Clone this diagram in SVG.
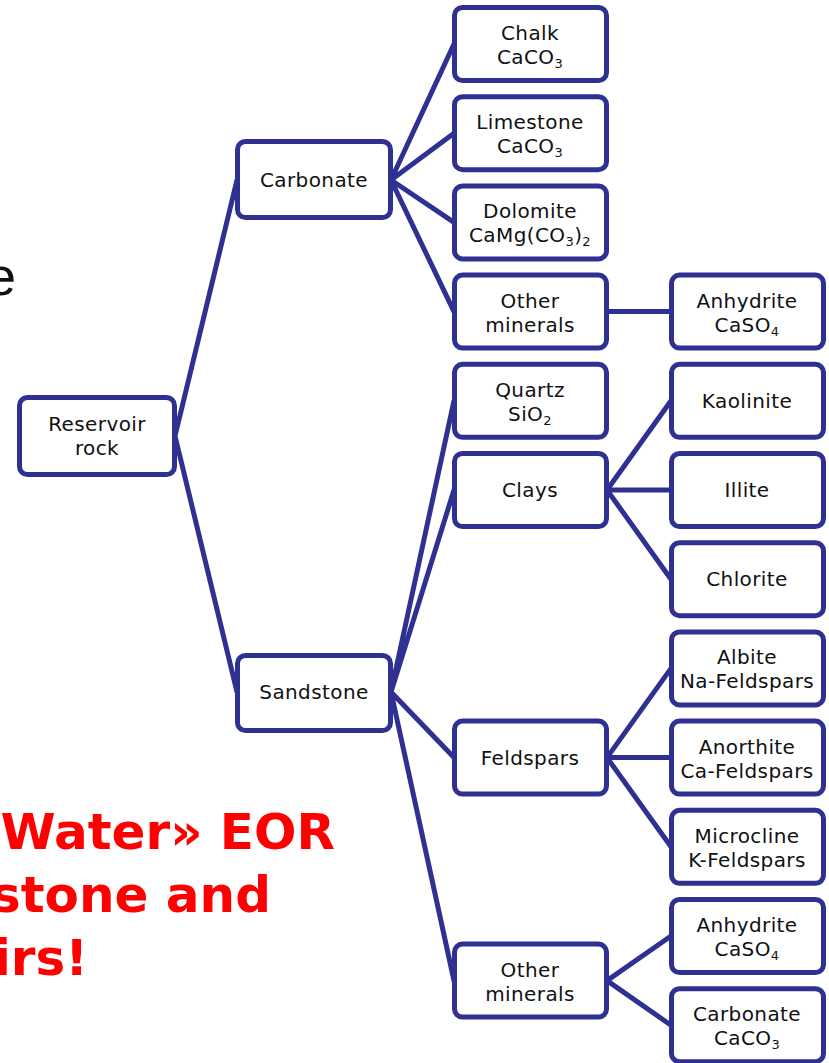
<svg xmlns="http://www.w3.org/2000/svg" width="829" height="1063" viewBox="0 0 829 1063">
<style>
.box{fill:#fff;stroke:#2E3192;stroke-width:5}
.ln{stroke:#2E3192;stroke-width:5;fill:none;stroke-linecap:round}
.t{font-family:"DejaVu Sans",Verdana,sans-serif;font-size:20px;letter-spacing:0.4px;fill:#111;text-anchor:middle}
.s{font-size:13px}
.red{font-family:"DejaVu Sans",Verdana,sans-serif;font-weight:bold;font-size:50px;fill:#FF0000;text-anchor:end}
</style>
<rect width="829" height="1063" fill="#fff"/>
<text x="16" y="295" font-family="Liberation Sans,Arial,sans-serif" font-size="54" fill="#111" text-anchor="end">e</text>
<g id="caption">
<text class="red" x="335" y="849">Water» EOR</text>
<text class="red" x="271" y="912">stone and</text>
<text class="red" x="88" y="975">irs!</text>
</g>
<g id="connectors">
<path class="ln" d="M175 436 L237 180 M175 436 L237 692"/>
<path class="ln" d="M391 180 L454 44 M391 180 L454 133.2 M391 180 L454 222.4 M391 180 L454 311.6"/>
<path class="ln" d="M607 311.6 L671 311.6"/>
<path class="ln" d="M391 692 L454 400.8 M391 692 L454 490 M391 692 L454 757.6 M391 692 L454 980.6"/>
<path class="ln" d="M607 490 L671 400.8 M607 490 L671 490 M607 490 L671 579.2"/>
<path class="ln" d="M607 757.6 L671 668.4 M607 757.6 L671 757.6 M607 757.6 L671 846.8"/>
<path class="ln" d="M607 980.6 L671 936 M607 980.6 L671 1025.2"/>
</g>
<g id="reservoir"><rect class="box" x="19.5" y="397.5" width="155" height="77" rx="8"/><text class="t" x="97" y="431">Reservoir</text><text class="t" x="97" y="455">rock</text></g>
<g id="carbonate"><rect class="box" x="237.5" y="141.5" width="153" height="76" rx="8"/><text class="t" x="314" y="187">Carbonate</text></g>
<g id="sandstone"><rect class="box" x="237.5" y="655.5" width="153" height="75" rx="8"/><text class="t" x="314" y="699">Sandstone</text></g>
<g id="chalk"><rect class="box" x="454.5" y="7.5" width="152" height="73" rx="8"/><text class="t" x="530" y="40">Chalk</text><text class="t" x="530" y="64">CaCO<tspan class="s" dy="4">3</tspan></text></g>
<g id="limestone"><rect class="box" x="454.5" y="96.7" width="152" height="73" rx="8"/><text class="t" x="530" y="129.2">Limestone</text><text class="t" x="530" y="153.2">CaCO<tspan class="s" dy="4">3</tspan></text></g>
<g id="dolomite"><rect class="box" x="454.5" y="185.9" width="152" height="73" rx="8"/><text class="t" x="530" y="218.4">Dolomite</text><text class="t" x="530" y="242.4">CaMg(CO<tspan class="s" dy="4">3</tspan><tspan dy="-4">)</tspan><tspan class="s" dy="4">2</tspan></text></g>
<g id="other1"><rect class="box" x="454.5" y="275.1" width="152" height="73" rx="8"/><text class="t" x="530" y="307.6">Other</text><text class="t" x="530" y="331.6">minerals</text></g>
<g id="quartz"><rect class="box" x="454.5" y="364.3" width="152" height="73" rx="8"/><text class="t" x="530" y="396.8">Quartz</text><text class="t" x="530" y="420.8">SiO<tspan class="s" dy="4">2</tspan></text></g>
<g id="clays"><rect class="box" x="454.5" y="453.5" width="152" height="73" rx="8"/><text class="t" x="530" y="497">Clays</text></g>
<g id="feldspars"><rect class="box" x="454.5" y="721.1" width="152" height="73" rx="8"/><text class="t" x="530" y="764.6">Feldspars</text></g>
<g id="other2"><rect class="box" x="454.5" y="944.1" width="152" height="73" rx="8"/><text class="t" x="530" y="976.6">Other</text><text class="t" x="530" y="1000.6">minerals</text></g>
<g id="anhydrite1"><rect class="box" x="671.5" y="275.1" width="152" height="73" rx="8"/><text class="t" x="747" y="307.6">Anhydrite</text><text class="t" x="747" y="331.6">CaSO<tspan class="s" dy="4">4</tspan></text></g>
<g id="kaolinite"><rect class="box" x="671.5" y="364.3" width="152" height="73" rx="8"/><text class="t" x="747" y="407.8">Kaolinite</text></g>
<g id="illite"><rect class="box" x="671.5" y="453.5" width="152" height="73" rx="8"/><text class="t" x="747" y="497">Illite</text></g>
<g id="chlorite"><rect class="box" x="671.5" y="542.7" width="152" height="73" rx="8"/><text class="t" x="747" y="586.2">Chlorite</text></g>
<g id="albite"><rect class="box" x="671.5" y="631.9" width="152" height="73" rx="8"/><text class="t" x="747" y="664.4">Albite</text><text class="t" x="747" y="688.4">Na-Feldspars</text></g>
<g id="anorthite"><rect class="box" x="671.5" y="721.1" width="152" height="73" rx="8"/><text class="t" x="747" y="753.6">Anorthite</text><text class="t" x="747" y="777.6">Ca-Feldspars</text></g>
<g id="microcline"><rect class="box" x="671.5" y="810.3" width="152" height="73" rx="8"/><text class="t" x="747" y="842.8">Microcline</text><text class="t" x="747" y="866.8">K-Feldspars</text></g>
<g id="anhydrite2"><rect class="box" x="671.5" y="899.5" width="152" height="73" rx="8"/><text class="t" x="747" y="932">Anhydrite</text><text class="t" x="747" y="956">CaSO<tspan class="s" dy="4">4</tspan></text></g>
<g id="carbonate2"><rect class="box" x="671.5" y="988.7" width="152" height="73" rx="8"/><text class="t" x="747" y="1021.2">Carbonate</text><text class="t" x="747" y="1045.2">CaCO<tspan class="s" dy="4">3</tspan></text></g>
</svg>
